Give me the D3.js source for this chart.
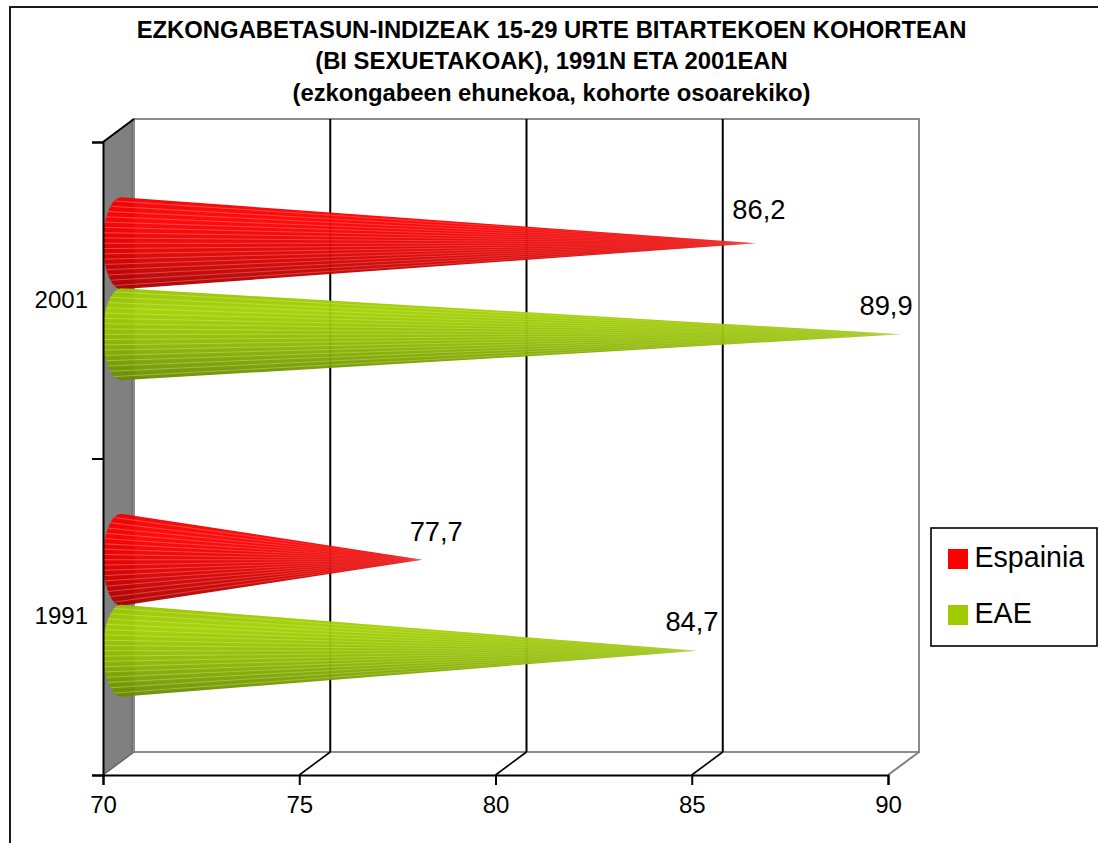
<!DOCTYPE html>
<html><head><meta charset="utf-8">
<style>html,body{margin:0;padding:0;background:#fff;overflow:hidden}svg{display:block}text{font-family:"Liberation Sans",Arial,sans-serif;fill:#000}</style>
<script src="https://cdn.jsdelivr.net/npm/d3@7"></script></head><body>
<script>
const categories = ["2001","1991"];
const seriesNames = ["Espainia","EAE"];
const espainia = [86.2,77.7];
const eae = [89.9,84.7];
const xTicks = [70,75,80,85,90];
const titleLines = ["EZKONGABETASUN-INDIZEAK 15-29 URTE BITARTEKOEN KOHORTEAN","(BI SEXUETAKOAK), 1991N ETA 2001EAN","(ezkongabeen ehunekoa, kohorte osoarekiko)"];

const svg = d3.select("body").append("svg").attr("width",1098).attr("height",843);
const defs = svg.append("defs");
const x = d3.scaleLinear().domain([70,90]).range([103,888]);
const yB = d3.scaleBand().domain(categories).range([142,775]);
const ySer = d3.scaleBand().domain(seriesNames).range([-91,91]);
const dx=31, dy=-23;
const line = d3.line();

// frame
svg.append("rect").attr("x",10).attr("y",7).attr("width",1300).attr("height",1200).attr("fill","#fff").attr("stroke","#1a1a1a").attr("stroke-width",2);

// title
svg.append("g").selectAll("text").data(titleLines).join("text")
 .attr("x",551.5).attr("y",(d,i)=>[38,69,101][i]).attr("text-anchor","middle")
 .attr("font-size",23.85).attr("font-weight","bold").text(d=>d);

// walls
const x0=x(70), yT=yB.range()[0], yF=yB.range()[1];
svg.append("path").attr("d",line([[x0,yT],[x0+dx,yT+dy],[x0+dx,yF+dy],[x0,yF]])+"Z").attr("fill","#808080");
const backX = v=>x(v)+dx;
svg.append("path").attr("d",line([[backX(70),yT+dy],[backX(90),yT+dy],[backX(90),yF+dy],[backX(70),yF+dy]])+"Z").attr("fill","#fff").attr("stroke","#8c8c8c").attr("stroke-width",2);
svg.append("line").attr("x1",x0+dx-2).attr("x2",x0+dx-2).attr("y1",yT+dy).attr("y2",yF+dy).attr("stroke","#666").attr("stroke-width",1);
// grid
const gridV=xTicks.slice(1,-1);
svg.append("g").selectAll("line").data(gridV).join("line")
 .attr("x1",d=>backX(d)).attr("x2",d=>backX(d)).attr("y1",yT+dy).attr("y2",yF+dy)
 .attr("stroke","#000").attr("stroke-width",2);
svg.append("g").selectAll("line").data(gridV).join("line")
 .attr("x1",d=>x(d)).attr("x2",d=>backX(d)).attr("y1",yF).attr("y2",yF+dy)
 .attr("stroke","#000").attr("stroke-width",1.6);
svg.append("line").attr("x1",x(90)).attr("x2",backX(90)).attr("y1",yF).attr("y2",yF+dy).attr("stroke","#808080").attr("stroke-width",2);
svg.append("line").attr("x1",x0).attr("x2",x0+dx).attr("y1",yF).attr("y2",yF+dy).attr("stroke","#666").attr("stroke-width",1.5);
svg.append("line").attr("x1",x0).attr("x2",x0+dx).attr("y1",yT).attr("y2",yT+dy).attr("stroke","#000").attr("stroke-width",2);

// gradients
const pal={Espainia:["#f00000","#ff0000","#e00000","#a80000"],EAE:["#98c400","#a2d000","#8eb800","#688a00"]};
const stripe={Espainia:"#ffb0b0",EAE:"#e4f2a8"};
seriesNames.forEach((s,i)=>{
 const g=defs.append("linearGradient").attr("id","g"+i).attr("x1",0).attr("x2",0).attr("y1",0).attr("y2",1);
 [0,.25,.6,1].forEach((o,k)=>g.append("stop").attr("offset",o).attr("stop-color",pal[s][k]));
});

// cones
const rx=18, ry=46, cDx=18, tipDx=17;
const rows=[];
categories.forEach((c,ci)=>{
 seriesNames.forEach((s,si)=>{
  rows.push({c,s,si,v:(si===0?espainia:eae)[ci]});
 });
});
const cy=d=>yB(d.c)+yB.bandwidth()/2+dy/2+ySer(d.s)+ySer.bandwidth()/2;
const gC=svg.append("g");
rows.forEach((d,i)=>{
 const yc=cy(d), bx=x0+cDx, tx=x(d.v)+tipDx;
 const path=`M${bx},${yc-ry}L${tx},${yc}L${bx},${yc+ry}A${rx},${ry} 0 0 1 ${bx},${yc-ry}Z`;
 const clipId="c"+i;
 defs.append("clipPath").attr("id",clipId).append("path").attr("d",path);
 gC.append("path").attr("d",path).attr("fill",`url(#g${d.si})`).attr("fill-opacity",.95);
 const sg=defs.append("linearGradient").attr("id","s"+i).attr("gradientUnits","userSpaceOnUse")
   .attr("x1",bx).attr("x2",tx).attr("y1",0).attr("y2",0);
 sg.append("stop").attr("offset",0).attr("stop-color",stripe[d.s]).attr("stop-opacity",.42);
 sg.append("stop").attr("offset",.55).attr("stop-color",stripe[d.s]).attr("stop-opacity",.3);
 sg.append("stop").attr("offset",1).attr("stop-color",stripe[d.s]).attr("stop-opacity",.05);
 const fan=gC.append("g").attr("clip-path",`url(#${clipId})`);
 d3.range(-8,9).forEach(k=>{
   const t=k/8.7, ly=yc+t*ry, lx=bx-rx*Math.sqrt(1-t*t);
   fan.append("path").attr("d",`M${lx},${ly}L${tx},${yc}`)
    .attr("stroke",`url(#s${i})`).attr("stroke-width",.9).attr("fill","none");
 });
 const lab=[[3,-24],[-15,-19],[14,-19],[-5,-20]][i];
 gC.append("text").attr("x",tx+lab[0]).attr("y",yc+lab[1]).attr("text-anchor","middle").attr("font-size",27.3).text(String(d.v).replace(".",","));
});

// axes
const ax=svg.append("g").attr("transform",`translate(0,${yF})`).call(d3.axisBottom(x).tickValues(xTicks).tickSize(10).tickPadding(11));
ax.select(".domain").attr("stroke","#000").attr("stroke-width",2);
ax.selectAll("line").attr("stroke","#000").attr("stroke-width",2);
ax.selectAll("text").attr("font-size",24).attr("font-family",'"Liberation Sans"').attr("fill","#000");
const yEdge=d3.scaleLinear().domain([0,2]).range([yT,yF]);
const ayT=svg.append("g").attr("transform",`translate(${x0},0)`).call(d3.axisLeft(yEdge).tickValues([0,1,2]).tickSize(11).tickFormat(""));
ayT.select(".domain").attr("stroke","#000").attr("stroke-width",2);
ayT.selectAll("line").attr("stroke","#000").attr("stroke-width",2);
const ayL=svg.append("g").attr("transform",`translate(${x0},0)`).call(d3.axisLeft(yB).tickSize(0).tickPadding(15));
ayL.select(".domain").remove();
ayL.selectAll("text").attr("font-size",24).attr("font-family",'"Liberation Sans"').attr("fill","#000");

// legend
const lg=svg.append("g");
lg.append("rect").attr("x",931).attr("y",528).attr("width",166).attr("height",118).attr("fill","#fff").attr("stroke","#000").attr("stroke-width",1.6);
const legCol={Espainia:"#ff0000",EAE:"#9fcc00"};
seriesNames.forEach((s,i)=>{
 lg.append("rect").attr("x",948).attr("y",549+i*56).attr("width",20).attr("height",20).attr("fill",legCol[s]);
 lg.append("text").attr("x",974.5).attr("y",567+i*56).attr("font-size",28.6).text(s);
});
</script></body></html>
